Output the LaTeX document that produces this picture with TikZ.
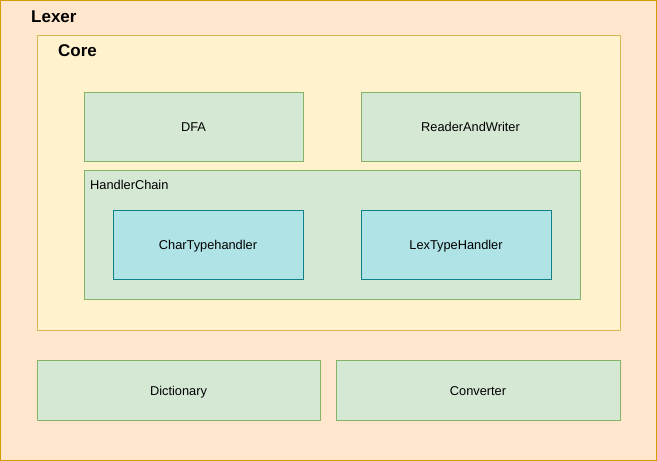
\documentclass[tikz,border=0pt]{standalone}
\usepackage{fontspec}
\setmainfont{Liberation Sans}
\definecolor{lexerfill}{HTML}{FFE6CC}
\definecolor{lexerline}{HTML}{D79B00}
\definecolor{corefill}{HTML}{FFF2CC}
\definecolor{coreline}{HTML}{D6B656}
\definecolor{partfill}{HTML}{D5E8D4}
\definecolor{partline}{HTML}{82B366}
\definecolor{handfill}{HTML}{B0E3E6}
\definecolor{handline}{HTML}{0E8088}

\begin{document}
\begin{tikzpicture}[x=1pt, y=-1pt,
	box/.style={rectangle, inner sep=0pt, line width=1pt, text height=10pt, text depth=0pt, font=\fontsize{12.8}{15}\selectfont},
	part/.style={box, draw=partline, fill=partfill},
	handler/.style={box, draw=handline, fill=handfill},
	title/.style={anchor=west, inner sep=0pt, font=\fontsize{17}{19}\selectfont\bfseries}]
	\useasboundingbox (0,0) rectangle (657,461);
	\node at (328.5,230.5) [box, draw=lexerline, fill=lexerfill, minimum width=656pt, minimum height=460pt] (lexer) {};
	\node at (31,17) [title] (lexertitle) {Lexer};
	\node at (328.5,182.5) [box, draw=coreline, fill=corefill, minimum width=583pt, minimum height=295pt] (core) {};
	\node at (58,51) [title] (coretitle) {Core};
	\node at (193.5,126.5) [part, minimum width=219pt, minimum height=69pt] (dfa) {DFA};
	\node at (470.5,126.5) [part, minimum width=219pt, minimum height=69pt] (rw) {ReaderAndWriter};
	\node at (332,234.5) [part, minimum width=496pt, minimum height=129pt] (chain) {};
	\node at (90,185) [anchor=west, inner sep=0pt, font=\fontsize{12.8}{15}\selectfont] (chaintitle) {HandlerChain};
	\node at (208,244.5) [handler, minimum width=190pt, minimum height=69pt] (chartype) {CharTypehandler};
	\node at (456,244.5) [handler, minimum width=190pt, minimum height=69pt] (lextype) {LexTypeHandler};
	\node at (178.5,390) [part, minimum width=283pt, minimum height=60pt] (dict) {Dictionary};
	\node at (478,390) [part, minimum width=284pt, minimum height=60pt] (conv) {Converter};
\end{tikzpicture}
\end{document}
